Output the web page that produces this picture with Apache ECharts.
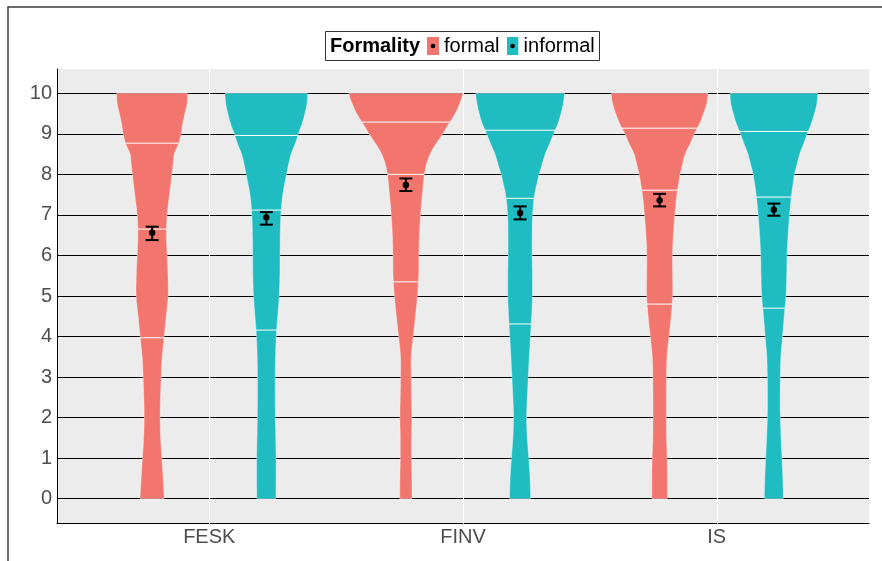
<!DOCTYPE html>
<html>
<head>
<meta charset="utf-8">
<style>
html,body{margin:0;padding:0;background:#fff;}
#chart{width:882px;height:561px;}
</style>
<script src="https://cdn.jsdelivr.net/npm/echarts@6/dist/echarts.min.js"></script>
</head>
<body>
<div id="chart"></div>
<script>
// ---------- DATA ----------
const categories = ['FESK', 'FINV', 'IS'];
const groups = ['formal', 'informal'];

// score levels at which violin widths were read (bottom to top)
const levels = [0, 0.5, 1, 1.5, 2, 2.5, 3, 3.5, 4, 4.5, 5, 5.5, 6, 6.5, 7, 7.5, 8, 8.25, 8.5, 8.75, 9, 9.25, 9.5, 9.75, 10];

// relative violin widths (1 = widest violin)
const feskFormalWidth   = [.211,.193,.170,.149,.140,.146,.158,.175,.211,.246,.281,.278,.263,.249,.263,.304,.345,.368,.386,.462,.509,.535,.573,.614,.623];
const feskInformalWidth = [.167,.170,.170,.164,.158,.155,.155,.161,.173,.199,.225,.237,.240,.243,.254,.287,.351,.389,.433,.503,.561,.626,.675,.711,.725];
const finvFormalWidth   = [.108,.105,.099,.099,.105,.099,.094,.094,.129,.167,.202,.225,.228,.237,.257,.287,.322,.360,.424,.526,.646,.751,.863,.942,1.0];
const finvInformalWidth = [.184,.175,.152,.126,.114,.126,.143,.161,.181,.202,.216,.216,.211,.211,.219,.254,.330,.386,.439,.515,.585,.661,.716,.757,.778];
const isFormalWidth     = [.137,.137,.132,.120,.117,.117,.120,.129,.164,.202,.228,.228,.225,.240,.266,.301,.357,.401,.447,.532,.608,.699,.769,.825,.848];
const isInformalWidth   = [.167,.158,.143,.126,.114,.111,.114,.123,.152,.181,.213,.225,.231,.249,.275,.310,.360,.406,.453,.520,.585,.655,.711,.754,.769];

// quartile lines
const formalQ25   = [3.97, 5.35, 4.80];
const formalQ50   = [6.65, 8.00, 7.61];
const formalQ75   = [8.77, 9.29, 9.14];
const informalQ25 = [4.16, 4.31, 4.70];
const informalQ50 = [7.12, 7.41, 7.44];
const informalQ75 = [8.96, 9.09, 9.06];

// means with error bars
const formalMean   = [6.56, 7.74, 7.36];
const formalLow    = [6.38, 7.59, 7.21];
const formalHigh   = [6.71, 7.90, 7.52];
const informalMean = [6.94, 7.05, 7.13];
const informalLow  = [6.76, 6.89, 6.98];
const informalHigh = [7.07, 7.21, 7.28];

const yTicks = [0, 1, 2, 3, 4, 5, 6, 7, 8, 9, 10];
const xTicks = [0, 1, 2];

// ---------- STYLE ----------
const FONT = "'Liberation Sans', Arial, sans-serif";
const colors = { formal: '#F2766E', informal: '#1FBDC2' };
const dodge = 0.225;      // half of dodge width 0.9 / 2 groups
const halfMax = 0.225;    // half of max violin width

const widthsByGroup = {
  formal: [feskFormalWidth, finvFormalWidth, isFormalWidth],
  informal: [feskInformalWidth, finvInformalWidth, isInformalWidth]
};

function buildData(mean, low, high, q25, q50, q75) {
  return categories.map((c, i) => [i, mean[i], low[i], high[i], q25[i], q50[i], q75[i]]);
}

// Catmull-Rom spline through the points read for each violin edge
function splineAt(w, y) {
  let k = 0;
  while (k < levels.length - 2 && y > levels[k + 1]) k++;
  const y0 = levels[k], y1 = levels[k + 1];
  const t = (y - y0) / (y1 - y0);
  const p0 = w[Math.max(k - 1, 0)], p1 = w[k], p2 = w[k + 1], p3 = w[Math.min(k + 2, w.length - 1)];
  const t2 = t * t, t3 = t2 * t;
  return 0.5 * ((2 * p1) + (-p0 + p2) * t + (2 * p0 - 5 * p1 + 4 * p2 - p3) * t2 + (-p0 + 3 * p1 - 3 * p2 + p3) * t3);
}

function makeRenderer(group, offset) {
  return function (params, api) {
    const ci = api.value(0);
    const w = widthsByGroup[group][ci];
    const xc = ci + offset;
    const left = [], right = [];
    const steps = 200;
    for (let s = 0; s <= steps; s++) {
      const y = s / steps * 10;
      const hw = splineAt(w, y) * halfMax;
      left.push(api.coord([xc - hw, y]));
      right.push(api.coord([xc + hw, y]));
    }
    const pts = left.concat(right.reverse());
    const children = [{
      type: 'polygon',
      shape: { points: pts },
      style: { fill: colors[group], stroke: 'rgba(255,255,255,0.5)', lineWidth: 0.7 }
    }];
    [api.value(4), api.value(5), api.value(6)].forEach(q => {
      const hw = splineAt(w, q) * halfMax;
      const a = api.coord([xc - hw, q]);
      const b = api.coord([xc + hw, q]);
      children.push({
        type: 'line',
        shape: { x1: a[0], y1: a[1], x2: b[0], y2: b[1] },
        style: { stroke: '#ffffff', lineWidth: 1 }
      });
    });
    const m = api.coord([xc, api.value(1)]);
    const lo = api.coord([xc, api.value(2)]);
    const hi = api.coord([xc, api.value(3)]);
    const cap = 6.5;
    const es = { stroke: '#000', lineWidth: 2 };
    children.push({ type: 'line', shape: { x1: m[0], y1: lo[1], x2: m[0], y2: hi[1] }, style: es });
    children.push({ type: 'line', shape: { x1: m[0] - cap, y1: lo[1], x2: m[0] + cap, y2: lo[1] }, style: es });
    children.push({ type: 'line', shape: { x1: m[0] - cap, y1: hi[1], x2: m[0] + cap, y2: hi[1] }, style: es });
    children.push({ type: 'circle', shape: { cx: m[0], cy: m[1], r: 3.2 }, style: { fill: '#000' } });
    return { type: 'group', children: children };
  };
}

function legendIcon(col) {
  const svg = "<svg xmlns='http://www.w3.org/2000/svg' width='12' height='18'>" +
    "<rect width='12' height='18' fill='" + col + "'/>" +
    "<circle cx='6' cy='9' r='2.3' fill='black'/></svg>";
  return 'image://data:image/svg+xml;charset=utf-8,' + encodeURIComponent(svg);
}

const chart = echarts.init(document.getElementById('chart'), null, { renderer: 'canvas' });

chart.setOption({
  animation: false,
  backgroundColor: '#ffffff',
  grid: {
    left: 57, right: 13, top: 69, bottom: 38,
    show: true, backgroundColor: '#EBECEB', borderWidth: 0
  },
  xAxis: {
    type: 'value', min: -0.6, max: 2.6,
    axisLine: { show: true, onZero: false, lineStyle: { color: '#000', width: 1 } },
    axisTick: { show: true, customValues: xTicks, length: 3, lineStyle: { color: '#d9d9d9' } },
    axisLabel: {
      customValues: xTicks, margin: 4,
      formatter: v => categories[Math.round(v)],
      fontFamily: FONT, fontSize: 20, color: '#4D4D4D'
    },
    splitLine: { show: true, lineStyle: { color: '#ffffff', width: 1 } }
  },
  yAxis: {
    type: 'value', min: -0.6, max: 10.6,
    axisLine: { show: true, onZero: false, lineStyle: { color: '#000', width: 1 } },
    axisTick: { show: false, customValues: yTicks },
    axisLabel: {
      customValues: yTicks, margin: 5,
      fontFamily: FONT, fontSize: 20, color: '#4D4D4D'
    },
    splitLine: { show: true, lineStyle: { color: '#000', width: 1 } }
  },
  legend: {
    data: [
      { name: 'formal', icon: legendIcon(colors.formal) },
      { name: 'informal', icon: legendIcon(colors.informal) }
    ],
    left: 427, top: 36, padding: 0,
    itemWidth: 12, itemHeight: 18, itemGap: 7,
    selectedMode: false,
    textStyle: { fontFamily: FONT, fontSize: 20, color: '#000' }
  },
  graphic: [
    {
      type: 'rect', z: 100, silent: true,
      shape: { x: 8, y: 7, width: 900, height: 600 },
      style: { fill: 'none', stroke: '#3a3a3a', lineWidth: 1.5 }
    },
    {
      type: 'rect', z: 100, silent: true,
      shape: { x: 325.5, y: 31.5, width: 274, height: 29 },
      style: { fill: 'none', stroke: '#333', lineWidth: 1 }
    },
    {
      type: 'text', z: 100, silent: true,
      left: 330, top: 36,
      style: { text: 'Formality', font: 'bold 20px ' + FONT, fill: '#000' }
    }
  ],
  series: [
    {
      name: 'formal', type: 'custom', itemStyle: { color: colors.formal },
      renderItem: makeRenderer('formal', -dodge),
      data: buildData(formalMean, formalLow, formalHigh, formalQ25, formalQ50, formalQ75)
    },
    {
      name: 'informal', type: 'custom', itemStyle: { color: colors.informal },
      renderItem: makeRenderer('informal', dodge),
      data: buildData(informalMean, informalLow, informalHigh, informalQ25, informalQ50, informalQ75)
    }
  ]
});
</script>
</body>
</html>
